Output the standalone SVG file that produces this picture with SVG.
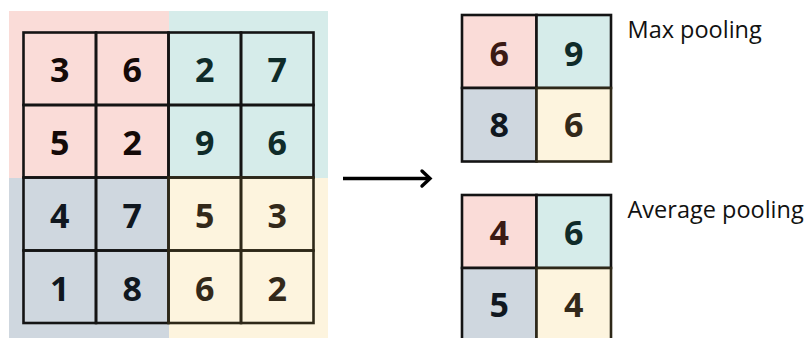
<svg xmlns="http://www.w3.org/2000/svg" width="807" height="338" viewBox="0 0 807 338">
<defs>
<style>
.pk{fill:#fadcd8}.tl{fill:#d6ecea}.gy{fill:#cfd7df}.cr{fill:#fdf4de}
.cell{stroke:#141414;stroke-width:2.6}
.cell.crb{stroke:#2e2818}
.d{font-family:"Open Sans","Noto Sans",sans-serif;font-weight:bold;font-size:34px;text-anchor:middle}
.tp{fill:#140a08}.tp2{fill:#3a1a14}.tt{fill:#0f2b29}.tg{fill:#10171f}.tc{fill:#33291a}
.lbl{font-family:"Open Sans","Noto Sans",sans-serif;font-size:23.5px;fill:#111}
</style>
</defs>
<g id="input-grid">
<rect class="pk" x="9" y="11" width="160" height="167"/>
<rect class="tl" x="169" y="11" width="159" height="167"/>
<rect class="gy" x="9" y="178" width="160" height="160"/>
<rect class="cr" x="169" y="178" width="159" height="160"/>
<g fill="none">
<rect class="cell" x="23.5" y="32.5" width="72.5" height="72.5"/>
<rect class="cell" x="96" y="32.5" width="72.5" height="72.5"/>
<rect class="cell" x="23.5" y="105" width="72.5" height="72.5"/>
<rect class="cell" x="96" y="105" width="72.5" height="72.5"/>
<rect class="cell" x="168.5" y="32.5" width="72.5" height="72.5"/>
<rect class="cell" x="241" y="32.5" width="72.5" height="72.5"/>
<rect class="cell" x="168.5" y="105" width="72.5" height="72.5"/>
<rect class="cell" x="241" y="105" width="72.5" height="72.5"/>
<rect class="cell" x="23.5" y="177.5" width="72.5" height="73"/>
<rect class="cell" x="96" y="177.5" width="72.5" height="73"/>
<rect class="cell" x="23.5" y="250.5" width="72.5" height="72.5"/>
<rect class="cell" x="96" y="250.5" width="72.5" height="72.5"/>
<rect class="cell crb" x="168.5" y="177.5" width="72.5" height="73"/>
<rect class="cell crb" x="241" y="177.5" width="72.5" height="73"/>
<rect class="cell crb" x="168.5" y="250.5" width="72.5" height="72.5"/>
<rect class="cell crb" x="241" y="250.5" width="72.5" height="72.5"/>
</g>
<text class="d tp" x="59.75" y="81.8">3</text>
<text class="d tp" x="132.25" y="81.8">6</text>
<text class="d tt" x="204.75" y="81.8">2</text>
<text class="d tt" x="277.25" y="81.8">7</text>
<text class="d tp" x="59.75" y="154.8">5</text>
<text class="d tp" x="132.25" y="154.8">2</text>
<text class="d tt" x="204.75" y="154.8">9</text>
<text class="d tt" x="277.25" y="154.8">6</text>
<text class="d tg" x="59.75" y="228">4</text>
<text class="d tg" x="132.25" y="228">7</text>
<text class="d tc" x="204.75" y="228">5</text>
<text class="d tc" x="277.25" y="228">3</text>
<text class="d tg" x="59.75" y="300.5">1</text>
<text class="d tg" x="132.25" y="300.5">8</text>
<text class="d tc" x="204.75" y="300.5">6</text>
<text class="d tc" x="277.25" y="300.5">2</text>
</g>
<g id="max-pool">
<rect class="pk cell" x="462" y="15" width="74.5" height="73"/>
<rect class="tl cell" x="536.5" y="15" width="74.5" height="73"/>
<rect class="gy cell" x="462" y="88" width="74.5" height="73.5"/>
<rect class="cr cell crb" x="536.5" y="88" width="74.5" height="73.5"/>
<text class="d tp2" x="499.25" y="65.5">6</text>
<text class="d tt" x="573.75" y="65.5">9</text>
<text class="d tg" x="499.25" y="136.8">8</text>
<text class="d tc" x="573.75" y="136.8">6</text>
<text class="lbl" x="627.5" y="38">Max pooling</text>
</g>
<g id="avg-pool">
<rect class="pk cell" x="462" y="195" width="74.5" height="73"/>
<rect class="tl cell" x="536.5" y="195" width="74.5" height="73"/>
<rect class="gy cell" x="462" y="268" width="74.5" height="80"/>
<rect class="cr cell crb" x="536.5" y="268" width="74.5" height="80"/>
<text class="d tp2" x="499.25" y="245">4</text>
<text class="d tt" x="573.75" y="245">6</text>
<text class="d tg" x="499.25" y="316.8">5</text>
<text class="d tc" x="573.75" y="316.8">4</text>
<text class="lbl" x="627.5" y="218">Average pooling</text>
</g>
<g id="connectors" fill="none" stroke="#000" stroke-width="3.4">
<line x1="343" y1="178.5" x2="430" y2="178.5"/>
<polyline points="422,171 430,178.5 422,186" stroke-linejoin="miter" stroke-linecap="round"/>
</g>
</svg>
